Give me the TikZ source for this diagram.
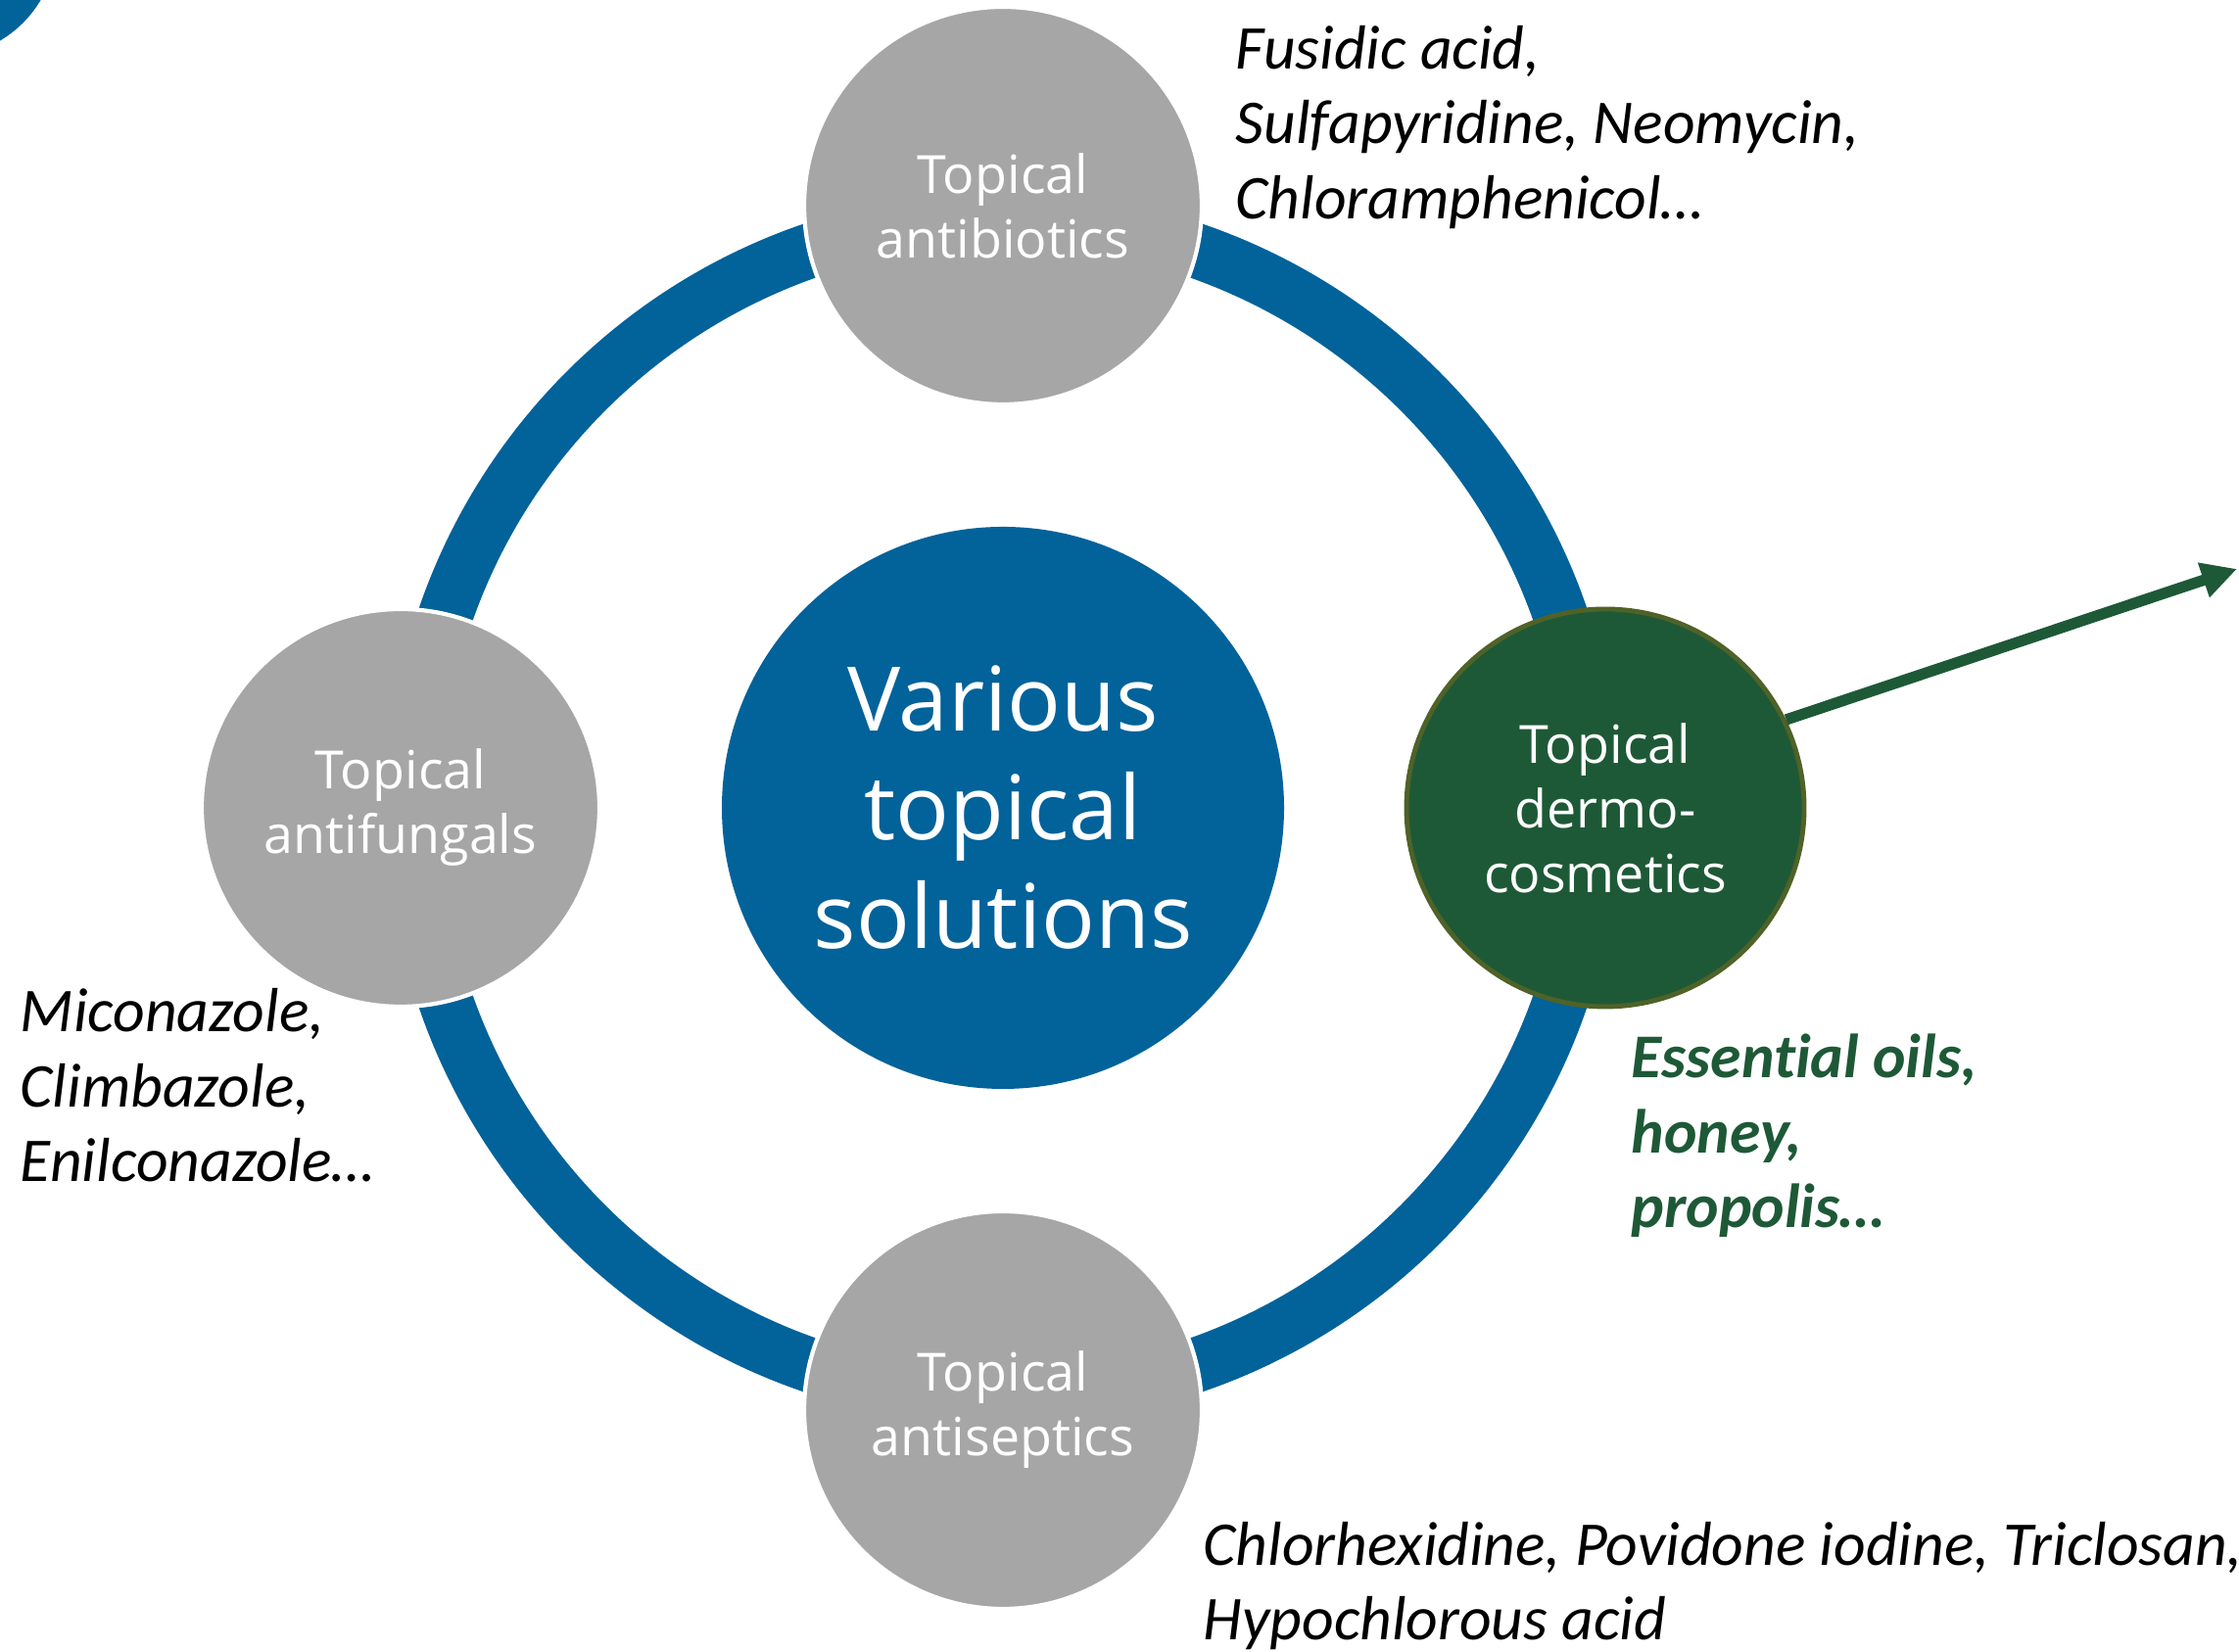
\documentclass[tikz,border=0pt]{standalone}
\usepackage{fontspec}
\usetikzlibrary{arrows.meta}
\newfontfamily\labelfont{Open Sans}
\newfontfamily\listfont[Ligatures=NoCommon]{Carlito}
\definecolor{ringblue}{RGB}{2,98,154}
\definecolor{pillgray}{RGB}{166,166,166}
\definecolor{dermogreen}{RGB}{30,89,55}
\definecolor{dermoedge}{RGB}{79,98,40}

\begin{document}
\begin{tikzpicture}[
  satellite/.style={circle, minimum size=4.06cm, inner sep=0pt, fill=pillgray, draw=white, line width=1.2pt,
    text=white, align=center, font=\labelfont\fontsize{15.3}{18.8}\selectfont},
  druglist/.style={anchor=base west, inner sep=0pt, align=left,
    font=\listfont\itshape\fontsize{18.1}{21.9}\selectfont}
]
  \useasboundingbox (0,0) rectangle (22.86,16.87);
  \begin{scope}
    \clip (0,0) rectangle (22.86,16.87);
    \fill[ringblue] (-0.6,17.47) circle (1.18);
  \end{scope}
  \draw[ringblue, line width=0.56cm] (10.24,8.62) circle (6.02);

  \node[circle, fill=ringblue, minimum size=5.74cm, inner sep=0pt, text=white, align=center,
    font=\labelfont\fontsize{25.9}{31.6}\selectfont] (hub) at (10.24,8.62) {Various\\topical\\solutions};

  \node[satellite] (antibiotics) at (10.24,14.77) {Topical\\antibiotics};
  \node[satellite] (antifungals) at (4.09,8.62) {Topical\\antifungals};
  \node[satellite] (antiseptics) at (10.24,2.47) {Topical\\antiseptics};
  \node[satellite, fill=dermogreen, draw=dermoedge, line width=1.4pt] (dermo) at (16.39,8.62) {Topical\\dermo-\\cosmetics};

  \coordinate (far) at (22.84,11.06);
  \draw[dermogreen, line width=3.2pt, -{Triangle[length=0.36cm, width=0.35cm]}] (dermo.26) -- (far);

  % base anchor sits on the last line
  \node[druglist] (antibioticlist) at (12.61,14.63) {Fusidic acid,\\Sulfapyridine, Neomycin,\\Chloramphenicol…};
  \node[druglist] (antifungallist) at (0.20,4.80) {Miconazole,\\Climbazole,\\Enilconazole…};
  \node[druglist] (antisepticlist) at (12.28,0.12) {Chlorhexidine, Povidone iodine, Triclosan,\\Hypochlorous acid};
  \node[druglist, text=dermogreen, font=\listfont\bfseries\itshape\fontsize{18.1}{21.9}\selectfont] (dermolist) at (16.65,4.33) {Essential oils,\\honey,\\propolis…};
\end{tikzpicture}
\end{document}
